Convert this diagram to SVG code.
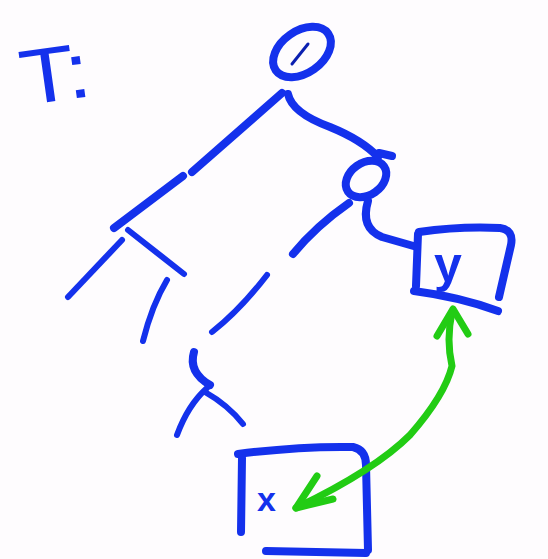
<svg xmlns="http://www.w3.org/2000/svg" width="548" height="559" viewBox="0 0 548 559">
<style>
.ink{fill:none;stroke:#1431ec;stroke-width:8;stroke-linecap:round;stroke-linejoin:round}
.thin{stroke-width:6}
.lbl{fill:#1431ec;font-family:"Liberation Sans",Arial,sans-serif;font-weight:bold}
.title{fill:#1431ec;font-family:"Liberation Sans",Arial,sans-serif;font-weight:normal}
.arr{fill:none;stroke:#22cc14;stroke-width:7;stroke-linecap:round;stroke-linejoin:round}
</style>
<rect width="548" height="559" fill="#fefcfe"/>
<g id="title">
<text class="title" x="20" y="103" font-size="78" transform="rotate(-8 40 75)" textLength="70" lengthAdjust="spacingAndGlyphs">T:</text>
</g>
<g id="root">
<ellipse class="ink" cx="302" cy="52" rx="32" ry="21" transform="rotate(-35 302 52)"/>
<path d="M292 64 L308 44" fill="none" stroke="#0b1fb0" stroke-width="3" stroke-linecap="round"/>
</g>
<g id="child">
<ellipse class="ink" cx="366" cy="179" rx="22" ry="16" transform="rotate(-35 366 179)"/>
<path class="ink" d="M379 153 L392 156" stroke-width="6"/>
</g>
<g id="node-left">
<path class="ink" d="M183 176 L114 228"/>
<path class="ink thin" d="M122 240 L68 297"/>
<path class="ink thin" d="M128 230 Q160 255 184 274"/>
<path class="ink thin" d="M167 280 Q152 305 143 341"/>
</g>
<g id="node-mid">
<path class="ink thin" d="M267 275 Q240 310 212 332"/>
<path class="ink" d="M194 352 Q188 372 210 385"/>
<path class="ink thin" d="M207 388 Q188 405 177 435"/>
<path class="ink thin" d="M205 392 Q228 405 243 424"/>
</g>
<g id="box-y">
<path class="ink" d="M419 232 Q460 226 500 228 Q514 230 511 245 L499 297"/>
<path class="ink" d="M418 234 L416 286"/>
<path class="ink" d="M414 291 Q460 297 498 311"/>
<text class="lbl" x="434" y="282" font-size="50">y</text>
</g>
<g id="box-x">
<path class="ink" d="M238 454 Q300 446 353 447 Q366 450 366 465 L368 550"/>
<path class="ink" d="M242 458 L241 532"/>
<path class="ink" d="M266 551 L366 553"/>
<text class="lbl" x="257" y="511" font-size="34">x</text>
</g>
<g id="connectors">
<path class="ink" d="M282 93 L192 172"/>
<path class="ink" d="M288 94 Q292 113 330 127 Q362 140 378 157"/>
<path class="ink" d="M349 203 Q316 226 293 254"/>
<path class="ink" d="M368 201 Q360 228 382 237 L417 247"/>
<path class="arr" d="M452 312 Q446 340 452 366 Q445 395 410 435 Q375 470 296 508"/>
<path class="arr" d="M437 336 L453 309 L468 334"/>
<path class="arr" d="M317 476 L296 508 L333 499"/>
</g>
</svg>
